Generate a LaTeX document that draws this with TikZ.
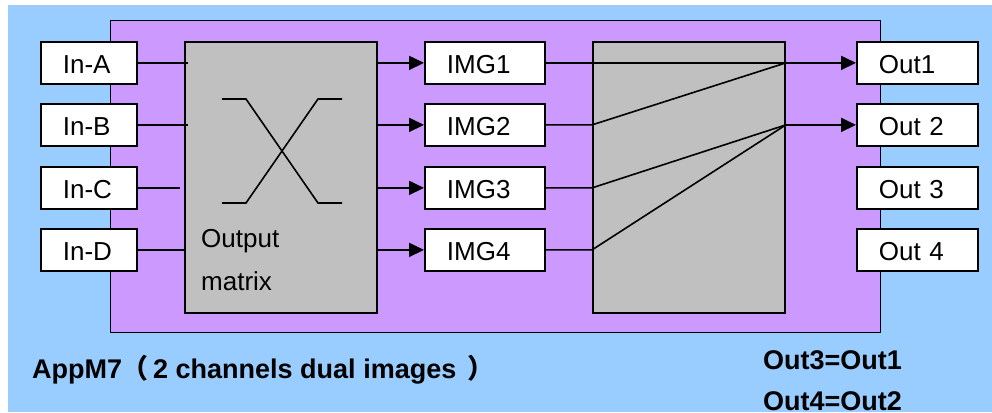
\documentclass[tikz,border=0pt]{standalone}
\usepackage{fontspec}
\setmainfont{Liberation Sans}
\newfontfamily\cjk{Noto Sans CJK SC}
\usetikzlibrary{arrows.meta}
\definecolor{bgblue}{HTML}{99CCFF}
\definecolor{appurple}{HTML}{CC99FF}
\definecolor{boxgray}{HTML}{C0C0C0}
\begin{document}
\begin{tikzpicture}[x=1pt,y=-1pt,
  lbox/.style={draw=black, fill=white, line width=1.8pt, minimum height=42pt,
    inner ysep=0pt, inner xsep=22pt, align=left, text height=22pt, text depth=0pt,
    font=\fontsize{26}{30}\selectfont, anchor=north west},
  inbox/.style={lbox, text width=52pt},
  imgbox/.style={lbox, text width=76pt},
  outbox/.style={lbox, text width=77pt},
  graybox/.style={draw=black, fill=boxgray, line width=1.8pt, minimum width=192pt,
    minimum height=271pt, inner sep=0pt, anchor=north west},
  inline/.style={line width=2.4pt},
  wire/.style={line width=1.6pt},
  arr/.style={line width=1.8pt, -{Triangle[length=15pt,width=14pt]}},
  plain/.style={font=\fontsize{26}{30}\selectfont, anchor=base west, inner sep=0pt},
  bold/.style={font=\fontsize{27}{30}\selectfont\bfseries, anchor=base west, inner sep=0pt}
]
\useasboundingbox (0,0) rectangle (992,412);
\fill[white] (0,0) rectangle (992,412);
\fill[bgblue] (8,5) rectangle (992,412);

\node[draw=black, fill=appurple, line width=1.3pt, minimum width=770pt, minimum height=312pt,
  inner sep=0pt, anchor=north west] (app) at (110,20) {};

\node[graybox] (mat) at (184,41) {};
\node[graybox] (rbox) at (592,41) {};

% inputs
\node[inbox] (inA) at (40,41) {In-A};
\node[inbox] (inB) at (40,103) {In-B};
\node[inbox] (inC) at (40,166) {In-C};
\node[inbox] (inD) at (40,228) {In-D};

% images
\node[imgbox] (img1) at (424,41) {IMG1};
\node[imgbox] (img2) at (424,103) {IMG2};
\node[imgbox] (img3) at (424,166) {IMG3};
\node[imgbox] (img4) at (424,228) {IMG4};

% outputs
\node[outbox] (out1) at (856,41) {Out1};
\node[outbox] (out2) at (856,103) {Out 2};
\node[outbox] (out3) at (856,166) {Out 3};
\node[outbox] (out4) at (856,228) {Out 4};

% input lines
\draw[inline] (inA.east) -- ([xshift=4pt]mat.west |- inA.east);
\draw[inline] (inB.east) -- ([xshift=4pt]mat.west |- inB.east);
\draw[inline] (inC.east) -- ([xshift=-4pt]mat.west |- inC.east);
\draw[inline] (inD.east) -- ([xshift=2pt]mat.west |- inD.east);

% cross symbol
\draw[wire] (222,99) -- (246,99) -- (318,203) -- (342,203);
\draw[wire] (222,203) -- (246,203) -- (318,99) -- (342,99);

\node[plain] (t1) at (201,247) {Output};
\node[plain] (t2) at (201,290) {matrix};

% matrix to images
\draw[arr] (mat.east |- img1.west) -- (img1.west);
\draw[arr] (mat.east |- img2.west) -- (img2.west);
\draw[arr] (mat.east |- img3.west) -- (img3.west);
\draw[arr] (mat.east |- img4.west) -- (img4.west);

% junctions
\coordinate (j1) at (rbox.east |- out1.west);
\coordinate (j2) at (rbox.east |- out2.west);

\draw[wire] (img1.east) -- (j1);
\draw[wire] (img2.east) -- (img2.east -| rbox.west) -- (j1);
\draw[wire] (img3.east) -- (img3.east -| rbox.west) -- (j2);
\draw[wire] (img4.east) -- (img4.east -| rbox.west) -- (j2);
\draw[arr] (j1) -- (out1.west);
\draw[arr] (j2) -- (out2.west);

% captions
\node[bold] (cap) at (32,378) {AppM7\hspace{-1pt}{\cjk （}\hspace{5pt}2 channels dual images\hspace{11pt}{\cjk ）}};
\node[bold] (eq1) at (763,369) {Out3=Out1};
\node[bold] (eq2) at (763,410) {Out4=Out2};
\end{tikzpicture}
\end{document}
